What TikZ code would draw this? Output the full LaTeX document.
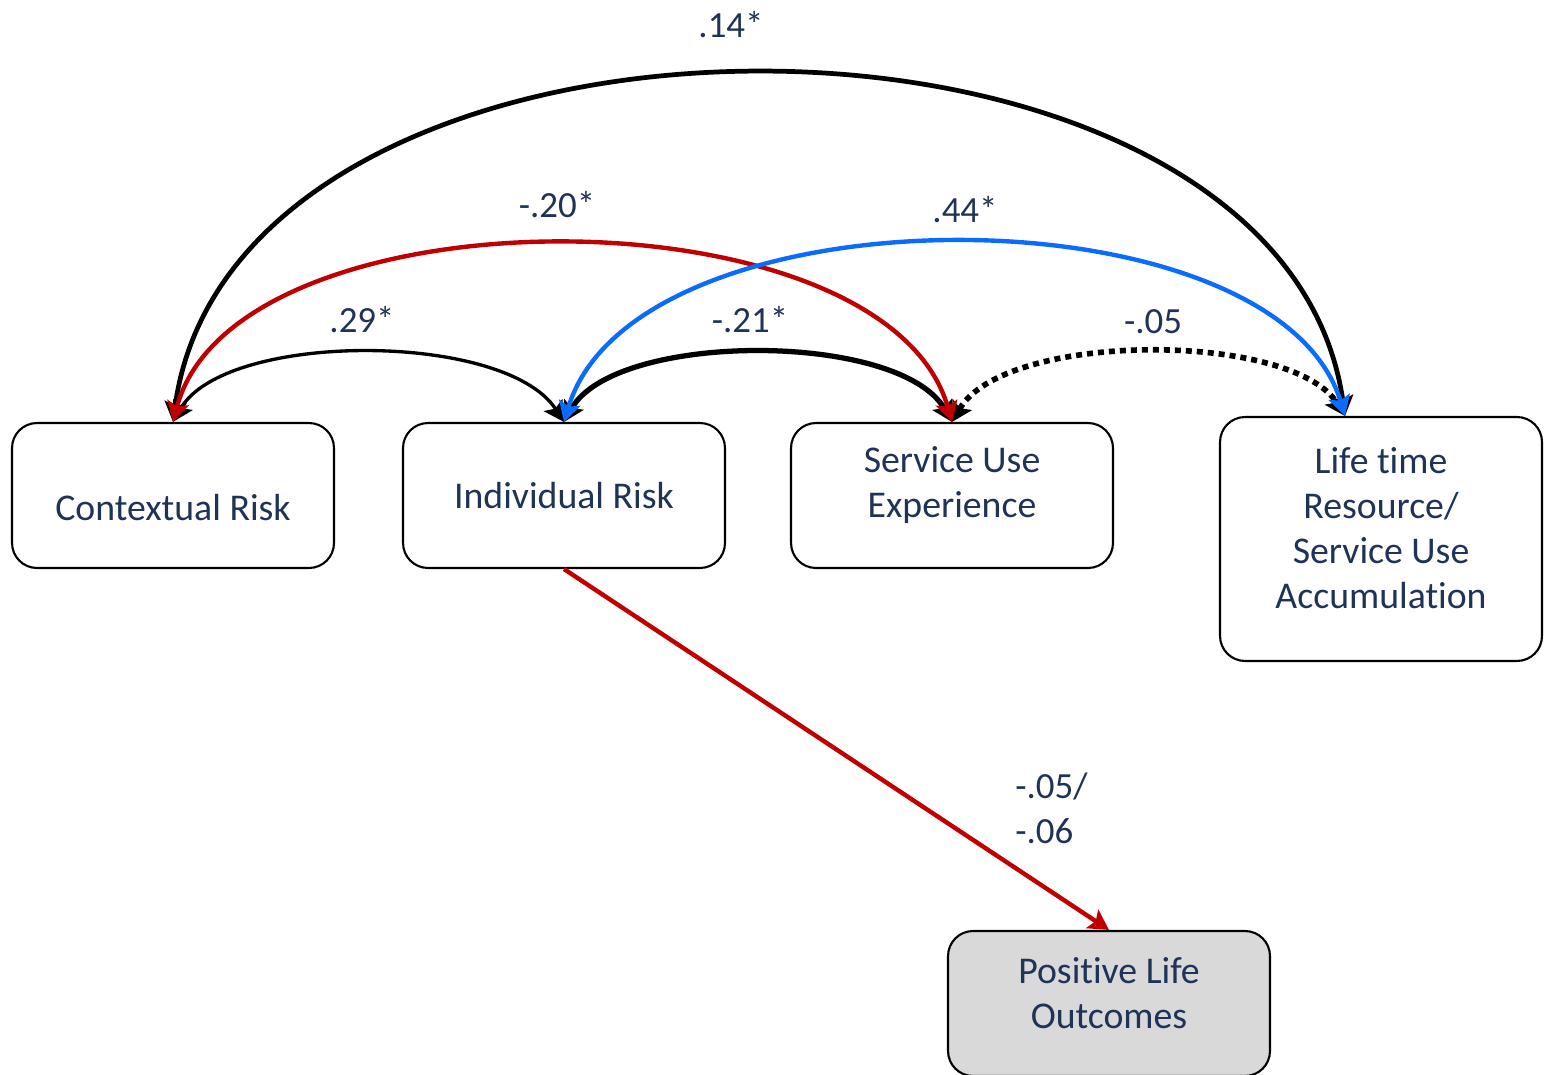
\documentclass[tikz,border=0pt]{standalone}
\usepackage{fontspec}
\setmainfont{Carlito}[Ligatures=NoCommon]
\usetikzlibrary{arrows.meta,calc}
\definecolor{navy}{HTML}{1F3358}
\definecolor{pathred}{HTML}{C00000}
\definecolor{pathblue}{HTML}{0A6CFF}
\definecolor{outfill}{HTML}{D9D9D9}
\begin{document}
\begin{tikzpicture}[x=0.02cm,y=-0.02cm,
  box/.style={draw=black,line width=1.2pt,rounded corners=0.5cm,
    minimum width=6.44cm,minimum height=2.9cm,inner sep=0pt},
  boxtext/.style={align=center,text=navy,inner sep=0pt,
    font=\fontsize{21.5}{25.6}\selectfont},
  coef/.style={text=navy,font=\fontsize{21}{25.6}\selectfont,inner sep=0pt},
  htip/.tip={Stealth[length=0.4cm,width=0.44cm,inset=0.08cm]},
  corr/.style={line width=2.5pt,{htip}-{htip}},
  thincorr/.style={corr,line width=1.9pt},
  dotcorr/.style={corr,dash pattern=on 0.12cm off 0.1cm}]
\useasboundingbox (0,0) rectangle (1550,1074);
\clip (0,0) rectangle (1550,1074);

% variables
\node[box] (ctx) at (173,495.5) {};
\node[box] (ind) at (564,495.5) {};
\node[box] (svc) at (952,495.5) {};
\node[box,minimum height=4.88cm] (life) at (1381,539) {};
\node[box,fill=outfill] (pos) at (1109,1003.5) {};

\node[boxtext] (ctx-t) at (173,508) {Contextual Risk};
\node[boxtext] (ind-t) at (564,496) {Individual Risk};
\node[boxtext] (svc-t) at (952,485) {Service Use\\Experience};
\node[boxtext] (life-t) at (1381,528.5) {Life time\\Resource/\\Service Use\\Accumulation};
\node[boxtext] (pos-t) at (1109,993.5) {Positive Life\\Outcomes};

\coordinate (lifeIn) at ([xshift=-0.72cm]life.north);

% short-range correlations
\draw[thincorr] (ctx.north) .. controls (225,331) and (505,331) .. (ind.north);
\draw[corr,line width=3pt] (ind.north) .. controls (615,331) and (900,331) .. (svc.north);
\draw[dotcorr,line width=3.2pt] (svc.north) .. controls (1005,331) and (1292,331) .. (lifeIn);

% long-range correlations
\draw[corr,line width=2.7pt] (ctx.north) .. controls (235,-40) and (1280,-40) .. (lifeIn);
\draw[corr,pathred] (ctx.north) .. controls (235,186) and (885,186) .. (svc.north);
\draw[corr,pathblue] (ind.north) .. controls (635,185) and (1275,185) .. (lifeIn);

% path to outcome
\draw[line width=2.5pt,pathred,-{htip}] (ind.south) -- (pos.north);

% coefficients
\node[coef] (c14) at (731,25) {.14*};
\node[coef] (c20) at (557,205) {-.20*};
\node[coef] (c44) at (965,210) {.44*};
\node[coef] (c29) at (362,320) {.29*};
\node[coef] (c21) at (750,320) {-.21*};
\node[coef] (c05) at (1153,322) {-.05};
\node[coef,anchor=west,align=left] (c0506) at (1015,808) {-.05/\\-.06};
\end{tikzpicture}
\end{document}
